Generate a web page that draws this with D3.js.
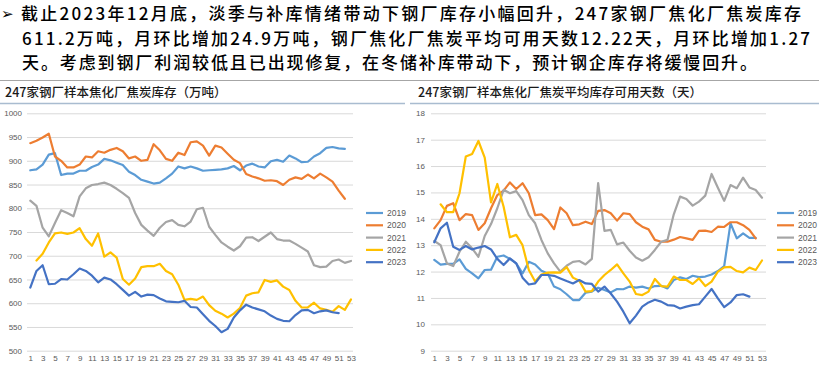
<!DOCTYPE html>
<html><head><meta charset="utf-8">
<script src="https://cdn.jsdelivr.net/npm/d3@7"></script>
<style>
html,body{margin:0;padding:0;background:#fff;}
svg{display:block;}
</style></head>
<body>
<svg id="c" width="819" height="367"></svg>
<script>
const weeks = [1,2,3,4,5,6,7,8,9,10,11,12,13,14,15,16,17,18,19,20,21,22,23,24,25,26,27,28,29,30,31,32,33,34,35,36,37,38,39,40,41,42,43,44,45,46,47,48,49,50,51,52,53];
const weekTicks = [1,3,5,7,9,11,13,15,17,19,21,23,25,27,29,31,33,35,37,39,41,43,45,47,49,51,53];
const years = ["2019","2020","2021","2022","2023"];
const colors = ["#5B9BD5","#ED7D31","#A5A5A5","#FFC000","#4472C4"];

const stock2019 = [880,882,892,913,916,870,873,873,879,879,887,892,904,901,896,891,877,870,860,856,852,854,863,873,888,884,888,884,879,880,881,882,884,889,880,890,894,888,886,899,902,898,911,905,897,898,909,916,927,929,926,925];
const stock2020 = [937,942,949,957,909,900,886,886,892,909,907,920,917,923,927,920,905,909,900,902,935,922,904,900,917,912,939,941,932,911,932,928,915,902,895,872,867,863,858,859,857,849,860,865,862,871,863,873,865,856,837,820];
const stock2021 = [816,805,759,741,769,796,790,783,825,842,849,851,854,849,841,832,822,790,765,753,742,759,771,775,765,762,772,798,801,761,744,728,719,711,720,738,739,731,740,749,735,732,732,725,717,709,680,676,677,689,692,685,689];
const stock2022 = [null,690,704,728,747,749,746,749,758,735,721,747,698,707,696,651,639,652,676,678,678,683,668,661,639,607,609,607,614,596,584,578,570,578,590,616,621,623,649,645,648,635,628,605,591,591,601,589,586,582,594,586,608];
const stock2023 = [633,668,680,640,641,651,650,661,673,668,658,644,654,650,640,628,616,624,614,618,617,610,604,603,602,605,592,591,577,563,552,539,546,570,585,597,591,587,583,574,567,563,562,575,585,586,579,583,585,581,579];
const stockTicks = [500,550,600,650,700,750,800,850,900,950,1000];

const days2019 = [12.44,12.26,12.29,12.29,12.46,12.10,11.93,11.74,12.06,12.07,12.56,12.61,12.48,12.31,11.93,12.37,12.27,12.03,11.93,11.43,11.33,11.14,10.92,10.92,11.20,11.24,11.39,11.30,11.21,11.34,11.33,11.43,11.39,11.43,11.36,11.45,11.46,11.36,11.68,11.78,11.72,11.84,11.79,11.81,11.89,12.02,12.21,13.83,13.26,13.45,13.28,13.28];
const days2020 = [13.64,13.95,14.49,14.59,13.95,14.18,14.14,13.58,13.83,14.40,14.90,15.07,15.38,15.13,15.35,14.97,14.14,14.17,13.95,13.61,14.43,14.21,13.76,13.79,13.89,13.80,14.30,14.33,14.21,13.93,14.21,14.18,13.87,13.70,13.60,13.20,13.13,13.13,13.21,13.31,13.26,13.20,13.54,13.55,13.50,13.70,13.69,13.87,13.87,13.76,13.58,13.26];
const days2021 = [13.16,13.00,12.31,12.21,12.75,13.13,12.88,12.56,13.35,13.80,14.40,15.10,14.97,15.05,14.71,14.14,13.83,13.20,12.69,12.31,12.00,12.22,12.37,12.40,12.27,12.48,15.35,13.54,13.58,13.03,13.10,12.79,12.53,12.41,12.54,12.82,13.13,13.20,14.17,14.84,14.75,14.50,14.65,14.88,15.70,15.18,14.68,15.28,15.16,15.56,15.19,15.09,14.80];
const days2022 = [null,14.55,14.25,14.25,14.97,16.36,16.46,16.95,16.32,14.62,15.32,14.46,13.30,13.39,13.00,12.06,11.62,11.89,11.96,11.97,11.96,12.17,11.77,11.65,11.24,11.26,11.62,11.87,12.06,12.27,11.93,11.62,11.15,11.11,11.24,11.72,11.45,11.43,11.81,11.68,11.68,11.53,11.74,11.45,11.62,12.00,12.16,12.18,12.02,11.97,12.15,12.06,12.42];
const days2023 = [13.11,13.64,13.85,12.94,12.82,12.97,12.84,12.91,12.97,12.84,12.48,12.25,12.50,12.31,11.77,11.51,11.55,11.87,11.87,11.84,11.74,11.64,11.55,11.68,11.55,11.53,11.24,11.43,11.17,10.86,10.48,10.04,10.33,10.67,10.83,10.93,10.86,10.73,10.71,10.60,10.67,10.73,10.76,11.05,11.34,10.98,10.65,10.83,11.11,11.14,11.05];
const daysTicks = [9,10,11,12,13,14,15,16,17,18];

const headLines = [
  "截止2023年12月底，淡季与补库情绪带动下钢厂库存小幅回升，247家钢厂焦化厂焦炭库存",
  "611.2万吨，月环比增加24.9万吨，钢厂焦化厂焦炭平均可用天数12.22天，月环比增加1.27",
  "天。考虑到钢厂利润较低且已出现修复，在冬储补库带动下，预计钢企库存将缓慢回升。"
];
const titleLeft = "247家钢厂样本焦化厂焦炭库存（万吨）";
const titleRight = "247家钢厂样本焦化厂焦炭平均库存可用天数（天）";

const svg = d3.select("#c");
const cjk = "'Noto Sans CJK SC','Noto Sans',sans-serif";
const num = "'Liberation Sans','DejaVu Sans',sans-serif";

// header paragraph
svg.append("text").attr("x",1).attr("y",19).attr("font-family","'DejaVu Sans',sans-serif")
  .attr("font-size",15).attr("fill","#000").text("➢");
const hl = [{x:21,y:20,len:780},{x:22,y:44.7,len:788},{x:22,y:69.4,len:735}];
headLines.forEach((t,i)=>{
  svg.append("text").attr("x",hl[i].x).attr("y",hl[i].y)
    .attr("font-family",cjk).attr("font-size",17).attr("font-weight",500).attr("fill","#000")
    .attr("textLength",hl[i].len).attr("lengthAdjust","spacing").text(t);
});
svg.append("line").attr("x1",0).attr("x2",819).attr("y1",80.5).attr("y2",80.5)
  .attr("stroke","#a6a6a6").attr("stroke-width",1);

function panel(opt){
  const g = svg.append("g");
  g.append("text").attr("x",opt.titleX).attr("y",96.5).attr("font-family",cjk)
    .attr("font-size",12.5).attr("font-weight",500).attr("fill","#1a1a1a").text(opt.title);
  g.append("line").attr("x1",opt.sepX1).attr("x2",opt.sepX2).attr("y1",103.5).attr("y2",103.5)
    .attr("stroke","#a9bcd0").attr("stroke-width",1.5);

  const x = d3.scalePoint().domain(weeks).range([opt.x0,opt.x1]).padding(0);
  const y = d3.scaleLinear().domain(opt.domain).range([350.7,113.3]);

  g.append("g").attr("transform",`translate(${opt.gx0},0)`)
    .call(d3.axisLeft(y).tickValues(opt.ticks).tickSize(-(opt.gx1-opt.gx0)).tickFormat(""))
    .call(a=>{a.select(".domain").remove(); a.selectAll("line").attr("stroke","#d9d9d9").attr("stroke-width",1);});
  g.append("g").attr("transform",`translate(${opt.labX},0)`)
    .call(d3.axisLeft(y).tickValues(opt.ticks).tickSize(0).tickPadding(0).tickFormat(d3.format("d")))
    .call(a=>{a.select(".domain").remove(); a.selectAll("text").attr("font-family",num).attr("font-size",8).attr("fill","#595959");});
  g.append("g").attr("transform",`translate(0,355)`)
    .call(d3.axisBottom(x).tickValues(weekTicks).tickSize(0).tickPadding(0))
    .call(a=>{a.select(".domain").remove(); a.selectAll("text").attr("font-family",num).attr("font-size",8).attr("fill","#595959").attr("dy","0.71em");});

  const line = d3.line().defined(d=>d!=null).x((d,i)=>x(weeks[i])).y(d=>y(d));
  opt.series.forEach((s,k)=>{
    g.append("path").attr("d",line(s)).attr("fill","none").attr("stroke",colors[k])
      .attr("stroke-width",2.2).attr("stroke-linejoin","round").attr("stroke-linecap","round");
  });
  years.forEach((yr,k)=>{
    const ly = 213 + k*12.3;
    g.append("line").attr("x1",opt.legX).attr("x2",opt.legX+17).attr("y1",ly).attr("y2",ly)
      .attr("stroke",colors[k]).attr("stroke-width",2.2);
    g.append("text").attr("x",opt.legX+21).attr("y",ly+3).attr("font-family",num)
      .attr("font-size",8.5).attr("fill","#595959").text(yr);
  });
}

panel({title:titleLeft,titleX:5,sepX1:0,sepX2:405,x0:30.3,x1:351,gx0:27,gx1:353,labX:22,
  domain:[500,1000],ticks:stockTicks,legX:366,
  series:[stock2019,stock2020,stock2021,stock2022,stock2023]});
panel({title:titleRight,titleX:418,sepX1:410,sepX2:819,x0:434.3,x1:762,gx0:431,gx1:766,labX:425,
  domain:[9,18],ticks:daysTicks,legX:777,
  series:[days2019,days2020,days2021,days2022,days2023]});
</script>
</body></html>
